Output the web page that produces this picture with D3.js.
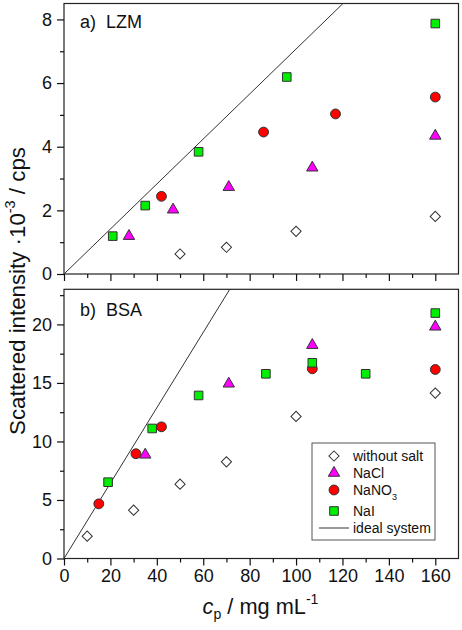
<!DOCTYPE html>
<html><head><meta charset="utf-8">
<script src="https://cdn.jsdelivr.net/npm/d3@7"></script>
<style>
html,body{margin:0;padding:0;background:#fff;}
svg{display:block;font-family:"Liberation Sans",Arial,Helvetica,sans-serif;}
</style></head>
<body>
<svg id="chart" width="462" height="630"></svg>
<script>
// ---------- data ----------
const xTicks = [0, 20, 40, 60, 80, 100, 120, 140, 160];
const xMinor = [10, 30, 50, 70, 90, 110, 130, 150];
const yTicksLZM = [0, 2, 4, 6, 8];
const yMinorLZM = [1, 3, 5, 7];
const yTicksBSA = [0, 5, 10, 15, 20];
const yMinorBSA = [2.5, 7.5, 12.5, 17.5, 22.5];

// a) LZM  (x: c_p mg/mL, y: intensity 10^-3 cps)
const lzmNoSaltX = [50, 70, 100, 160];
const lzmNoSaltY = [0.63, 0.84, 1.34, 1.81];
const lzmNaClX   = [28, 47, 71, 107, 160];
const lzmNaClY   = [1.19, 2.02, 2.73, 3.34, 4.34];
const lzmNaNO3X  = [42, 86, 117, 160];
const lzmNaNO3Y  = [2.44, 4.46, 5.03, 5.56];
const lzmNaIX    = [21, 35, 58, 96, 160];
const lzmNaIY    = [1.19, 2.15, 3.84, 6.19, 7.87];
const lzmIdealSlope = 0.0707;

// b) BSA
const bsaNoSaltX = [10, 30, 50, 70, 100, 160];
const bsaNoSaltY = [1.91, 4.13, 6.35, 8.26, 12.14, 14.13];
const bsaNaClX   = [35, 71, 107, 160];
const bsaNaClY   = [8.86, 14.93, 18.23, 19.8];
const bsaNaNO3X  = [15, 31, 42, 107, 160];
const bsaNaNO3Y  = [4.67, 8.95, 11.25, 16.21, 16.15];
const bsaNaIX    = [19, 38, 58, 87, 107, 130, 160];
const bsaNaIY    = [6.52, 11.11, 13.93, 15.78, 16.72, 15.78, 20.97];
const bsaIdealSlope = 0.322;

const legendLabels = ["without salt", "NaCl", "NaNO3", "NaI", "ideal system"];

// ---------- styles ----------
const colNoSalt = "#ffffff", colNaCl = "#ff00ff", colNaNO3 = "#ff0000", colNaI = "#00ee00";
const strokeCol = "#333";

const svg = d3.select("#chart");
const x = d3.scaleLinear().domain([0, 170]).range([64, 458.5]);

const sym = {
  noSalt: d3.symbol().type(d3.symbolSquare).size(52),
  nacl:   d3.symbol().type(d3.symbolTriangle).size(56),
  nano3:  d3.symbol().type(d3.symbolCircle).size(76),
  nai:    d3.symbol().type(d3.symbolSquare).size(74)
};

function panel(y, opts) {
  const g = svg.append("g");
  const [y0, y1] = y.range();
  const clipId = "clip" + opts.id;
  svg.append("clipPath").attr("id", clipId).append("rect")
    .attr("x", x.range()[0]).attr("y", y1).attr("width", x.range()[1] - x.range()[0]).attr("height", y0 - y1);

  g.append("rect").attr("x", x.range()[0]).attr("y", y1)
    .attr("width", x.range()[1] - x.range()[0]).attr("height", y0 - y1)
    .attr("fill", "none").attr("stroke", "#222").attr("stroke-width", 1.2);

  const xa = g.append("g").attr("transform", `translate(0,${y0})`)
    .call(d3.axisBottom(x).tickValues(xTicks).tickSize(7).tickPadding(4)
      .tickFormat(opts.xLabels ? d3.format("d") : () => ""));
  xa.append("g").call(d3.axisBottom(x).tickValues(xMinor).tickSize(4).tickFormat(() => ""));
  const ya = g.append("g").attr("transform", `translate(${x.range()[0]},0)`)
    .call(d3.axisLeft(y).tickValues(opts.yTicks).tickSize(7).tickPadding(5).tickFormat(d3.format("d")));
  ya.append("g").call(d3.axisLeft(y).tickValues(opts.yMinor).tickSize(4).tickFormat(() => ""));
  g.selectAll(".domain").remove();
  g.selectAll(".tick line").attr("stroke", "#111").attr("stroke-width", 1.2);
  g.selectAll(".tick text").attr("font-size", 18).attr("fill", "#111")
    .attr("font-family", '"Liberation Sans",Arial,sans-serif');

  const xEnd = 170;
  g.append("line").attr("clip-path", `url(#${clipId})`)
    .attr("x1", x(0)).attr("y1", y(0))
    .attr("x2", x(xEnd)).attr("y2", y(opts.slope * xEnd))
    .attr("stroke", "#333").attr("stroke-width", 1);

  const pts = (xs, ys) => xs.map((v, i) => [v, ys[i]]);
  const draw = (data, s, fill, rot) => g.append("g").selectAll("path").data(data).join("path")
    .attr("d", s)
    .attr("transform", d => `translate(${x(d[0])},${y(d[1])})` + (rot ? " rotate(45)" : ""))
    .attr("fill", fill).attr("stroke", strokeCol).attr("stroke-width", 1);

  draw(pts(opts.noSalt[0], opts.noSalt[1]), sym.noSalt(), colNoSalt, true);
  draw(pts(opts.nano3[0], opts.nano3[1]), sym.nano3(), colNaNO3);
  draw(pts(opts.nacl[0], opts.nacl[1]), sym.nacl(), colNaCl);
  draw(pts(opts.nai[0], opts.nai[1]), sym.nai(), colNaI);

  g.append("text").attr("x", 80).attr("y", opts.labelY).attr("font-size", 18).attr("fill", "#111")
    .attr("xml:space", "preserve").text(opts.label);
}

const yTop = d3.scaleLinear().domain([0, 8.5]).range([274, 3.5]);
const yBot = d3.scaleLinear().domain([0, 23]).range([558.5, 289.3]);

panel(yTop, { id: "a", yTicks: yTicksLZM, yMinor: yMinorLZM, xLabels: false, slope: lzmIdealSlope,
  noSalt: [lzmNoSaltX, lzmNoSaltY], nacl: [lzmNaClX, lzmNaClY], nano3: [lzmNaNO3X, lzmNaNO3Y], nai: [lzmNaIX, lzmNaIY],
  label: "a)  LZM", labelY: 28 });
panel(yBot, { id: "b", yTicks: yTicksBSA, yMinor: yMinorBSA, xLabels: true, slope: bsaIdealSlope,
  noSalt: [bsaNoSaltX, bsaNoSaltY], nacl: [bsaNaClX, bsaNaClY], nano3: [bsaNaNO3X, bsaNaNO3Y], nai: [bsaNaIX, bsaNaIY],
  label: "b)  BSA", labelY: 316 });

// fit a text element to a target width (in its own horizontal direction)
function fitWidth(sel, base, target) {
  const w = sel.node().getBBox().width;
  const k = target / w;
  sel.attr("font-size", base * k);
  sel.selectAll("tspan").each(function () {
    const t = d3.select(this);
    const fs = t.attr("font-size");
    if (fs) t.attr("font-size", +fs * k);
    const dy = t.attr("dy");
    if (dy) t.attr("dy", +dy * k);
  });
}

// x-axis title
const xt = svg.append("text").attr("x", 260.5).attr("y", 614).attr("text-anchor", "middle")
  .attr("font-size", 20).attr("fill", "#111");
xt.append("tspan").attr("font-style", "italic").text("c");
xt.append("tspan").attr("font-size", 13).attr("dy", 5).text("p");
xt.append("tspan").attr("dy", -5).text(" / mg mL");
xt.append("tspan").attr("font-size", 13).attr("dy", -9).text("-1");
fitWidth(xt, 20, 116);

// y-axis title
const yt = svg.append("text").attr("transform", "translate(25,291) rotate(-90)")
  .attr("text-anchor", "middle").attr("font-size", 20).attr("fill", "#111");
yt.append("tspan").text("Scattered intensity ·10");
yt.append("tspan").attr("font-size", 13).attr("dy", -9).text("-3");
yt.append("tspan").attr("dy", 9).text(" / cps");
fitWidth(yt, 20, 288);

// legend
const lg = svg.append("g");
lg.append("rect").attr("x", 312).attr("y", 443).attr("width", 123).attr("height", 97)
  .attr("fill", "#fff").attr("stroke", "#555").attr("stroke-width", 1);
const rowsY = [456, 473, 490, 511, 528];
const legSyms = [[sym.noSalt(), colNoSalt, true], [sym.nacl(), colNaCl], [sym.nano3(), colNaNO3], [sym.nai(), colNaI]];
legSyms.forEach((s, i) => {
  lg.append("path").attr("d", s[0]).attr("fill", s[1]).attr("stroke", strokeCol)
    .attr("transform", `translate(334,${rowsY[i]})` + (s[2] ? " rotate(45)" : ""));
});
lg.append("line").attr("x1", 319).attr("x2", 349).attr("y1", rowsY[4]).attr("y2", rowsY[4])
  .attr("stroke", "#555").attr("stroke-width", 1.2);
legendLabels.forEach((t, i) => {
  const tx = lg.append("text").attr("x", 353).attr("y", rowsY[i] + 5).attr("font-size", 14).attr("fill", "#111");
  if (t === "NaNO3") {
    tx.append("tspan").text("NaNO");
    tx.append("tspan").attr("font-size", 9).attr("dy", 5).text("3");
  } else tx.text(t);
});
</script>
</body></html>
